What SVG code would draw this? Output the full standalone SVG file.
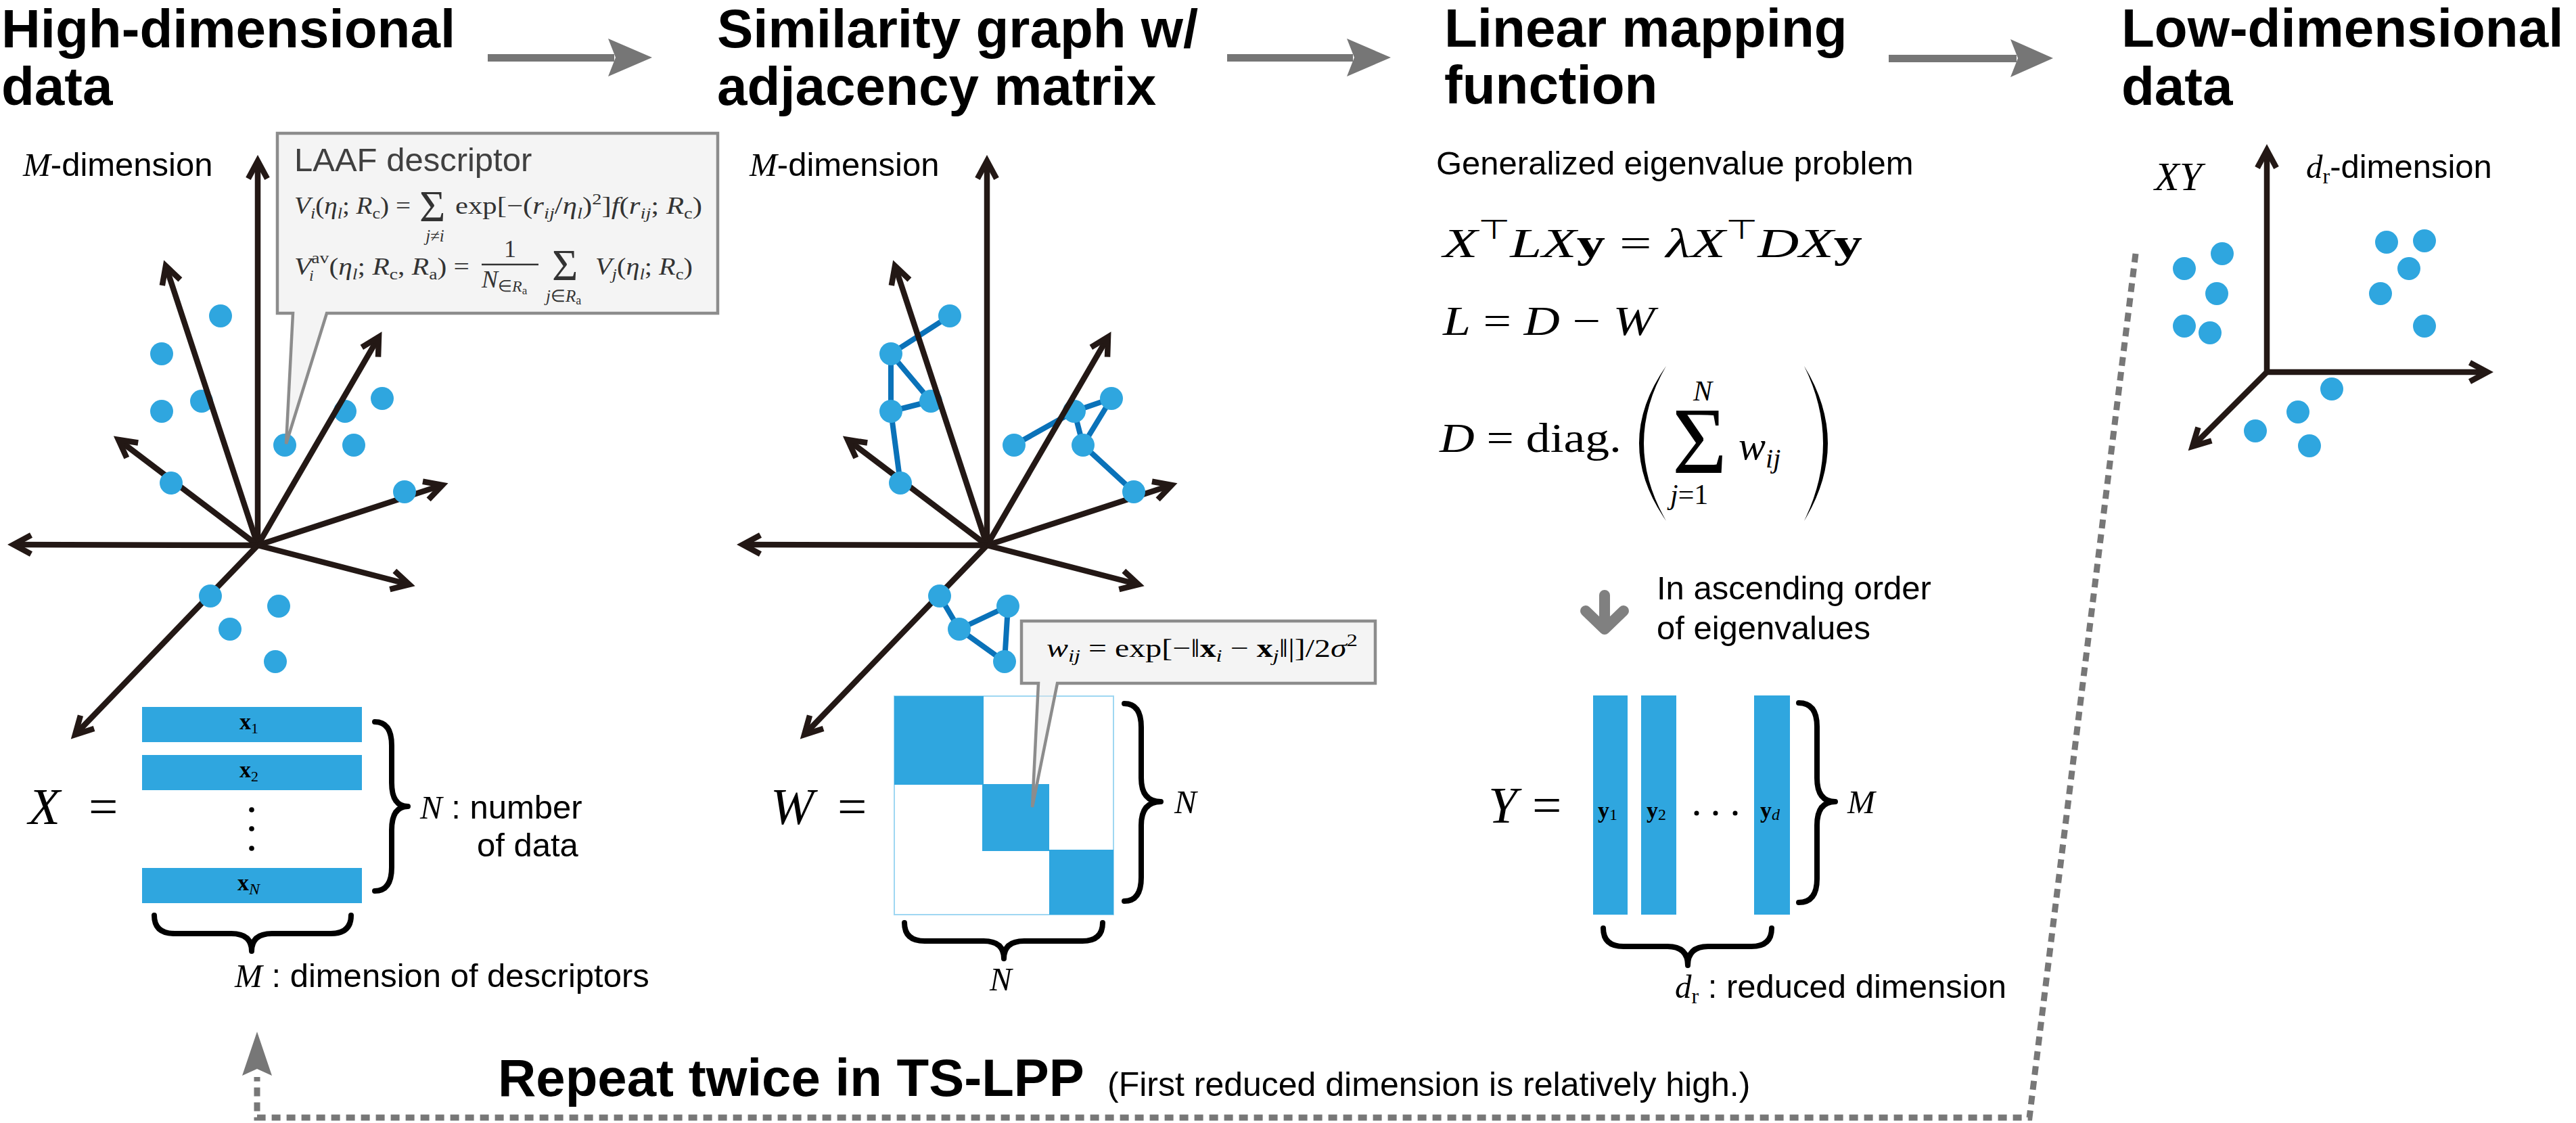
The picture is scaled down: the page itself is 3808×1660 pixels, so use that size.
<svg xmlns="http://www.w3.org/2000/svg" width="3808" height="1660" viewBox="0 0 3808 1660">
<style>
.title{font-family:"Liberation Sans",Arial,sans-serif;font-weight:bold;font-size:80px;fill:#000}
.lbl{font-family:"Liberation Sans",Arial,sans-serif;font-size:49px;fill:#000}
.mi{font-family:"Liberation Serif","Times New Roman",serif;font-style:italic}
.mr{font-family:"Liberation Serif","Times New Roman",serif;font-style:normal}
.math{font-family:"Liberation Serif","Times New Roman",serif;fill:#000}
.cf{font-family:"Liberation Serif","Times New Roman",serif;fill:#333}
.i{font-style:italic}
.b{font-weight:bold}
.axis{stroke:#231815;stroke-width:8.5;fill:none;marker-end:url(#ah)}
.dot{fill:#2fa6df}
.edge{stroke:#0a72b9;stroke-width:8;stroke-linecap:round}
.bar{fill:#2fa6df}
.brace{fill:none;stroke:#000;stroke-width:8;stroke-linecap:round;stroke-linejoin:round}
.callout{fill:#e6e6e6;fill-opacity:0.45;stroke:#8c8c8c;stroke-width:4.5}
.harrow{fill:#767676}
.loop{fill:none;stroke:#777;stroke-width:9;stroke-dasharray:13 9}
</style>
<defs>
<marker id="ah" markerUnits="userSpaceOnUse" viewBox="-40 -25 50 50" markerWidth="50" markerHeight="50" refX="0" refY="0" orient="auto" overflow="visible">
<path d="M-26,-14 L0,0 L-26,14" fill="none" stroke="#231815" stroke-width="8.5" stroke-linejoin="miter" stroke-miterlimit="10"/>
</marker>
</defs>
<rect width="3808" height="1660" fill="#fff"/>

<!-- Titles -->
<g id="titles">
<text class="title" x="2" y="70">High-dimensional</text>
<text class="title" x="2" y="155">data</text>
<text class="title" x="1060" y="70">Similarity graph w/</text>
<text class="title" x="1060" y="155">adjacency matrix</text>
<text class="title" x="2135" y="69">Linear mapping</text>
<text class="title" x="2135" y="153">function</text>
<text class="title" x="3136" y="69">Low-dimensional</text>
<text class="title" x="3136" y="155">data</text>
</g>

<!-- Panel 1: high-dimensional data -->
<g id="high-dim-data">
<text class="lbl" x="34" y="260"><tspan class="mi">M</tspan>-dimension</text>
<circle class="dot" cx="298" cy="593" r="17"/>
<circle class="dot" cx="510" cy="608" r="17"/>
<line class="axis" x1="381" y1="806" x2="381" y2="238"/>
<line class="axis" x1="381" y1="806" x2="245" y2="393"/>
<line class="axis" x1="381" y1="806" x2="175" y2="650"/>
<line class="axis" x1="381" y1="806" x2="20" y2="805"/>
<line class="axis" x1="381" y1="806" x2="111" y2="1086"/>
<line class="axis" x1="381" y1="806" x2="560" y2="498"/>
<line class="axis" x1="381" y1="806" x2="654" y2="717"/>
<line class="axis" x1="381" y1="806" x2="605" y2="864"/>
<circle class="dot" cx="326" cy="467" r="17"/>
<circle class="dot" cx="239" cy="523" r="17"/>
<circle class="dot" cx="239" cy="608" r="17"/>
<circle class="dot" cx="421" cy="658" r="17"/>
<circle class="dot" cx="565" cy="589" r="17"/>
<circle class="dot" cx="523" cy="658" r="17"/>
<circle class="dot" cx="253" cy="714" r="17"/>
<circle class="dot" cx="598" cy="727" r="17"/>
<circle class="dot" cx="311" cy="881" r="17"/>
<circle class="dot" cx="412" cy="896" r="17"/>
<circle class="dot" cx="340" cy="930" r="17"/>
<circle class="dot" cx="407" cy="978" r="17"/>
</g>

<g id="laaf-callout">
<path class="callout" d="M410 197 H1061 V463 H483 L423 656 L433 463 H410 Z"/>
<text x="435" y="253" font-family="Liberation Sans, Arial, sans-serif" font-size="49" fill="#404040">LAAF descriptor</text>
<text class="cf" x="435" y="316" font-size="36" textLength="172" lengthAdjust="spacingAndGlyphs"><tspan class="i">V</tspan><tspan class="i" font-size="24" dy="7">i</tspan><tspan dy="-7">(</tspan><tspan class="i">η</tspan><tspan class="i" font-size="24" dy="7">l</tspan><tspan dy="-7">; </tspan><tspan class="i">R</tspan><tspan font-size="24" dy="7">c</tspan><tspan dy="-7">) =</tspan></text>
<text class="cf" x="620" y="327" font-size="66">Σ</text>
<text class="cf" x="643" y="357" font-size="25" text-anchor="middle"><tspan class="i">j</tspan>≠<tspan class="i">i</tspan></text>
<text class="cf" x="673" y="316" font-size="36" textLength="365" lengthAdjust="spacingAndGlyphs">exp[−(<tspan class="i">r</tspan><tspan class="i" font-size="24" dy="7">ij</tspan><tspan dy="-7">/</tspan><tspan class="i">η</tspan><tspan class="i" font-size="24" dy="7">l</tspan><tspan dy="-7">)</tspan><tspan font-size="24" dy="-14">2</tspan><tspan dy="14">]</tspan><tspan class="i">f</tspan>(<tspan class="i">r</tspan><tspan class="i" font-size="24" dy="7">ij</tspan><tspan dy="-7">; </tspan><tspan class="i">R</tspan><tspan font-size="24" dy="7">c</tspan><tspan dy="-7">)</tspan></text>
<text class="cf" x="435" y="406" font-size="36" textLength="259" lengthAdjust="spacingAndGlyphs"><tspan class="i">V</tspan><tspan font-size="24" dy="-17">av</tspan><tspan dy="17">(</tspan><tspan class="i">η</tspan><tspan class="i" font-size="24" dy="7">l</tspan><tspan dy="-7">; </tspan><tspan class="i">R</tspan><tspan font-size="24" dy="7">c</tspan><tspan dy="-7">, </tspan><tspan class="i">R</tspan><tspan font-size="24" dy="7">a</tspan><tspan dy="-7">) =</tspan></text>
<text class="cf i" x="457" y="415" font-size="24">i</text>
<text class="cf" x="754" y="380" font-size="36" text-anchor="middle">1</text>
<line x1="712" y1="391" x2="796" y2="391" stroke="#333" stroke-width="2.5"/>
<text class="cf" x="712" y="425" font-size="36"><tspan class="i">N</tspan><tspan font-size="24" dy="6">∈</tspan><tspan class="i" font-size="24">R</tspan><tspan font-size="17" dy="4">a</tspan></text>
<text class="cf" x="816" y="414" font-size="66">Σ</text>
<text class="cf" x="807" y="446" font-size="25"><tspan class="i">j</tspan>∈<tspan class="i">R</tspan><tspan font-size="18" dy="4">a</tspan></text>
<text class="cf" x="880" y="406" font-size="36" textLength="144" lengthAdjust="spacingAndGlyphs"><tspan class="i">V</tspan><tspan class="i" font-size="24" dy="7">j</tspan><tspan dy="-7">(</tspan><tspan class="i">η</tspan><tspan class="i" font-size="24" dy="7">l</tspan><tspan dy="-7">; </tspan><tspan class="i">R</tspan><tspan font-size="24" dy="7">c</tspan><tspan dy="-7">)</tspan></text>
</g>

<g id="matrix-X">
<text class="math i" x="42" y="1218" font-size="77">X</text>
<text class="math" x="131" y="1218" font-size="77">=</text>
<rect class="bar" x="210" y="1045" width="325" height="52"/>
<rect class="bar" x="210" y="1116" width="325" height="52"/>
<rect class="bar" x="210" y="1283" width="325" height="52"/>
<text class="math" x="354" y="1078" font-size="34"><tspan class="b">x</tspan><tspan font-size="22" dy="6">1</tspan></text>
<text class="math" x="354" y="1149" font-size="34"><tspan class="b">x</tspan><tspan font-size="22" dy="6">2</tspan></text>
<text class="math" x="351" y="1316" font-size="34"><tspan class="b">x</tspan><tspan class="i" font-size="24" dy="6">N</tspan></text>
<circle cx="372" cy="1197" r="3.8" fill="#000"/>
<circle cx="372" cy="1225" r="3.8" fill="#000"/>
<circle cx="372" cy="1254" r="3.8" fill="#000"/>
<path class="brace" d="M554 1067 Q579 1067 579 1102 L579 1157 Q579 1192 603 1192 Q579 1192 579 1227 L579 1282 Q579 1317 554 1317"/>
<text class="lbl" x="621" y="1210"><tspan class="mi">N</tspan> : number</text>
<text class="lbl" x="705" y="1266">of data</text>
<path class="brace" d="M228 1353 Q228 1380 258 1380 L342 1380 Q372 1380 372 1406 Q372 1380 402 1380 L489 1380 Q519 1380 519 1353"/>
<text class="lbl" x="347" y="1459"><tspan class="mi">M</tspan> : dimension of descriptors</text>
</g>

<!-- Panel 2: similarity graph -->
<g id="similarity-graph">
<text class="lbl" x="1108" y="260"><tspan class="mi">M</tspan>-dimension</text>
<line class="edge" x1="1404" y1="467" x2="1317" y2="523"/>
<line class="edge" x1="1317" y1="523" x2="1376" y2="593"/>
<line class="edge" x1="1317" y1="523" x2="1317" y2="608"/>
<line class="edge" x1="1317" y1="608" x2="1376" y2="593"/>
<line class="edge" x1="1317" y1="608" x2="1331" y2="714"/>
<line class="edge" x1="1499" y1="658" x2="1588" y2="608"/>
<line class="edge" x1="1588" y1="608" x2="1643" y2="589"/>
<line class="edge" x1="1643" y1="589" x2="1601" y2="658"/>
<line class="edge" x1="1588" y1="608" x2="1601" y2="658"/>
<line class="edge" x1="1601" y1="658" x2="1676" y2="727"/>
<line class="edge" x1="1389" y1="881" x2="1418" y2="930"/>
<line class="edge" x1="1418" y1="930" x2="1490" y2="896"/>
<line class="edge" x1="1490" y1="896" x2="1485" y2="978"/>
<line class="edge" x1="1418" y1="930" x2="1485" y2="978"/>
<circle class="dot" cx="1376" cy="593" r="17"/>
<circle class="dot" cx="1588" cy="608" r="17"/>
<line class="axis" x1="1459" y1="806" x2="1459" y2="238"/>
<line class="axis" x1="1459" y1="806" x2="1323" y2="393"/>
<line class="axis" x1="1459" y1="806" x2="1253" y2="650"/>
<line class="axis" x1="1459" y1="806" x2="1098" y2="805"/>
<line class="axis" x1="1459" y1="806" x2="1189" y2="1086"/>
<line class="axis" x1="1459" y1="806" x2="1638" y2="498"/>
<line class="axis" x1="1459" y1="806" x2="1732" y2="717"/>
<line class="axis" x1="1459" y1="806" x2="1683" y2="864"/>
<circle class="dot" cx="1404" cy="467" r="17"/>
<circle class="dot" cx="1317" cy="523" r="17"/>
<circle class="dot" cx="1317" cy="608" r="17"/>
<circle class="dot" cx="1499" cy="658" r="17"/>
<circle class="dot" cx="1643" cy="589" r="17"/>
<circle class="dot" cx="1601" cy="658" r="17"/>
<circle class="dot" cx="1331" cy="714" r="17"/>
<circle class="dot" cx="1676" cy="727" r="17"/>
<circle class="dot" cx="1389" cy="881" r="17"/>
<circle class="dot" cx="1490" cy="896" r="17"/>
<circle class="dot" cx="1418" cy="930" r="17"/>
<circle class="dot" cx="1485" cy="978" r="17"/>
</g>

<g id="matrix-W">
<text class="math i" x="1139" y="1218" font-size="77">W</text>
<text class="math" x="1238" y="1218" font-size="77">=</text>
<rect x="1322" y="1029" width="324" height="323" fill="#fff" stroke="#9fd7f2" stroke-width="2"/>
<rect class="bar" x="1322" y="1029" width="132" height="131"/>
<rect class="bar" x="1452" y="1159" width="99" height="99"/>
<rect class="bar" x="1551" y="1256" width="95" height="96"/>
<path class="brace" d="M1662 1040 Q1687 1040 1687 1075 L1687 1150 Q1687 1185 1716 1185 Q1687 1185 1687 1220 L1687 1297 Q1687 1332 1662 1332"/>
<text class="math i" x="1736" y="1202" font-size="49">N</text>
<path class="brace" d="M1337 1364 Q1337 1391 1367 1391 L1454 1391 Q1484 1391 1484 1417 Q1484 1391 1514 1391 L1600 1391 Q1630 1391 1630 1364"/>
<text class="math i" x="1463" y="1464" font-size="49">N</text>
</g>

<g id="wij-callout">
<path class="callout" d="M1510 918 H2033 V1010 H1563 L1526 1193 L1535 1010 H1510 Z"/>
<text class="math" x="1547" y="971" font-size="38" fill="#222" textLength="460" lengthAdjust="spacingAndGlyphs"><tspan class="i">w</tspan><tspan class="i" font-size="26" dy="7">ij</tspan><tspan dy="-7"> = exp[−‖</tspan><tspan class="b">x</tspan><tspan class="i" font-size="26" dy="7">i</tspan><tspan dy="-7"> − </tspan><tspan class="b">x</tspan><tspan class="i" font-size="26" dy="7">j</tspan><tspan dy="-7">‖|]/2</tspan><tspan class="i">σ</tspan><tspan font-size="26" dy="-16">2</tspan></text>
</g>

<!-- Panel 3: linear mapping -->
<g id="linear-mapping">
<text class="lbl" x="2123" y="258">Generalized eigenvalue problem</text>
<text class="math" x="2133" y="380" font-size="62" textLength="620" lengthAdjust="spacingAndGlyphs"><tspan class="i">X</tspan><tspan font-size="40" dy="-27">⊤</tspan><tspan class="i" dy="27">LX</tspan><tspan class="b">y</tspan> = <tspan class="i">λX</tspan><tspan font-size="40" dy="-27">⊤</tspan><tspan class="i" dy="27">DX</tspan><tspan class="b">y</tspan></text>
<text class="math" x="2133" y="495" font-size="62" textLength="313" lengthAdjust="spacingAndGlyphs"><tspan class="i">L</tspan> = <tspan class="i">D</tspan> − <tspan class="i">W</tspan></text>
<text class="math" x="2128" y="668" font-size="62" textLength="269" lengthAdjust="spacingAndGlyphs"><tspan class="i">D</tspan> = diag.</text>
<path d="M2463 541 Q2383 655 2463 770 Q2397 655 2463 541 Z" fill="#000"/>
<path d="M2667 541 Q2737 655 2667 770 Q2723 655 2667 541 Z" fill="#000"/>
<text class="math" x="2472" y="699" font-size="139">Σ</text>
<text class="math i" x="2503" y="592" font-size="42">N</text>
<text class="math" x="2469" y="745" font-size="42"><tspan class="i">j</tspan>=1</text>
<text class="math" x="2570" y="679" font-size="60"><tspan class="i">w</tspan><tspan class="i" font-size="40" dy="12">ij</tspan></text>
<text class="lbl" x="2449" y="886">In ascending order</text>
<text class="lbl" x="2449" y="945">of eigenvalues</text>
</g>

<g id="matrix-Y">
<text class="math i" x="2200" y="1216" font-size="77">Y</text>
<text class="math" x="2265" y="1216" font-size="77">=</text>
<rect class="bar" x="2355" y="1028" width="51" height="324"/>
<rect class="bar" x="2426" y="1028" width="52" height="324"/>
<rect class="bar" x="2593" y="1028" width="53" height="324"/>
<text class="math" x="2362" y="1209" font-size="34"><tspan class="b">y</tspan><tspan font-size="24" dy="3">1</tspan></text>
<text class="math" x="2434" y="1209" font-size="34"><tspan class="b">y</tspan><tspan font-size="24" dy="3">2</tspan></text>
<text class="math" x="2602" y="1209" font-size="34"><tspan class="b">y</tspan><tspan class="i" font-size="24" dy="3">d</tspan></text>
<circle cx="2508" cy="1202" r="3.5" fill="#000"/>
<circle cx="2536" cy="1202" r="3.5" fill="#000"/>
<circle cx="2565" cy="1202" r="3.5" fill="#000"/>
<path class="brace" d="M2659 1039 Q2686 1039 2686 1074 L2686 1150 Q2686 1185 2713 1185 Q2686 1185 2686 1220 L2686 1299 Q2686 1334 2659 1334"/>
<text class="math i" x="2731" y="1202" font-size="49">M</text>
<path class="brace" d="M2370 1372 Q2370 1399 2400 1399 L2465 1399 Q2495 1399 2495 1427 Q2495 1399 2525 1399 L2589 1399 Q2619 1399 2619 1372"/>
<text class="lbl" x="2476" y="1475"><tspan class="mi">d</tspan><tspan class="mr" font-size="32" dy="8">r</tspan><tspan dy="-8"> : reduced dimension</tspan></text>
</g>

<!-- Panel 4: low-dimensional data -->
<g id="low-dim-data">
<text class="math i" x="3185" y="281" font-size="60">XY</text>
<text class="lbl" x="3409" y="263"><tspan class="mi">d</tspan><tspan class="mr" font-size="32" dy="8">r</tspan><tspan dy="-8">-dimension</tspan></text>
<line class="axis" x1="3351" y1="550" x2="3351" y2="222"/>
<line class="axis" x1="3351" y1="550" x2="3677" y2="550"/>
<line class="axis" x1="3351" y1="550" x2="3241" y2="660"/>
<circle class="dot" cx="3285" cy="375" r="17"/>
<circle class="dot" cx="3229" cy="397" r="17"/>
<circle class="dot" cx="3277" cy="434" r="17"/>
<circle class="dot" cx="3229" cy="482" r="17"/>
<circle class="dot" cx="3267" cy="492" r="17"/>
<circle class="dot" cx="3528" cy="358" r="17"/>
<circle class="dot" cx="3584" cy="356" r="17"/>
<circle class="dot" cx="3561" cy="397" r="17"/>
<circle class="dot" cx="3519" cy="434" r="17"/>
<circle class="dot" cx="3584" cy="482" r="17"/>
<circle class="dot" cx="3447" cy="575" r="17"/>
<circle class="dot" cx="3397" cy="609" r="17"/>
<circle class="dot" cx="3334" cy="637" r="17"/>
<circle class="dot" cx="3414" cy="659" r="17"/>
</g>

<!-- Connectors -->
<g id="connectors">
<path class="harrow" d="M721 80 H908 V91 H721 Z M899 57 L964 85 L899 113 L910 85 Z"/>
<path class="harrow" d="M1814 80 H2000 V91 H1814 Z M1991 57 L2056 85 L1991 113 L2002 85 Z"/>
<path class="harrow" d="M2792 81 H2981 V92 H2792 Z M2972 58 L3035 86 L2972 114 L2983 86 Z"/>
<path d="M2372 880 V928 M2344 903 L2372 930 L2400 903" fill="none" stroke="#808080" stroke-width="16" stroke-linecap="round" stroke-linejoin="round"/>
<path class="loop" d="M3157 375 L3000 1652 L380 1652 L380 1592"/>
<path d="M380 1525 L402 1590 L380 1580 L358 1590 Z" fill="#777"/>
<text x="736" y="1620" font-family="Liberation Sans, Arial, sans-serif" font-weight="bold" font-size="78">Repeat twice in TS-LPP</text>
<text x="1637" y="1620" font-family="Liberation Sans, Arial, sans-serif" font-size="50">(First reduced dimension is relatively high.)</text>
</g>
</svg>
